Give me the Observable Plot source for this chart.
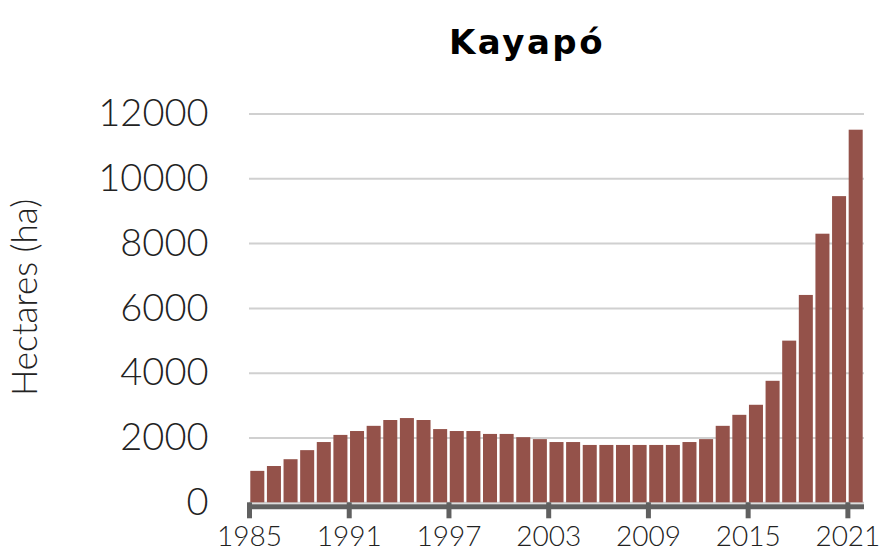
<!DOCTYPE html>
<html>
<head>
<meta charset="utf-8">
<script src="https://cdn.jsdelivr.net/npm/d3@7"></script>
<script src="https://cdn.jsdelivr.net/npm/@observablehq/plot@0.6"></script>
<style>
  html, body { margin: 0; padding: 0; background: #fff; }
  #wrap { position: relative; width: 880px; height: 555px; overflow: hidden; font-family: Lato, "Open Sans", sans-serif; }
  #title { position: absolute; left: 0; width: 1054px; top: 19px; text-align: center; font-family: "DejaVu Sans", Inter, sans-serif; font-weight: 700; font-size: 34px; letter-spacing: 2.5px; line-height: 46px; color: #000; margin: 0; }
  #chart svg { display: block; }
</style>
</head>
<body>
<div id="wrap">
  <div id="title">Kayapó</div>
  <div id="chart"></div>
</div>
<script>
const title = "Kayapó";
const yLabel = "Hectares (ha)";
const years = [1985,1986,1987,1988,1989,1990,1991,1992,1993,1994,1995,1996,1997,1998,1999,2000,2001,2002,2003,2004,2005,2006,2007,2008,2009,2010,2011,2012,2013,2014,2015,2016,2017,2018,2019,2020,2021];
const hectares = [970,1120,1330,1610,1860,2080,2200,2360,2540,2600,2540,2260,2200,2200,2110,2110,2010,1950,1860,1860,1770,1770,1770,1770,1770,1770,1860,1950,2360,2700,3010,3750,4990,6400,8290,9450,11500];
const xTicks = [1985,1991,1997,2003,2009,2015,2021];
const yTicks = [0,2000,4000,6000,8000,10000,12000];

const data = years.map((y, i) => ({year: y, value: hectares[i]}));
const font = "Lato, 'Open Sans', sans-serif";

const chart = Plot.plot({
  width: 880,
  height: 555,
  marginTop: 113.5,
  marginBottom: 52.7,
  marginLeft: 249,
  marginRight: 16,
  style: {fontFamily: font, background: "transparent"},
  x: {domain: [1985, 2022]},
  y: {domain: [0, 12000]},
  marks: [
    Plot.gridY(yTicks, {stroke: "#d0d0d0", strokeOpacity: 1, strokeWidth: 2}),
    Plot.rectY(data, {x1: "year", x2: d => d.year + 1, y: "value", fill: "#94524a", insetLeft: 1.3, insetRight: 1.3}),
    Plot.ruleY([0], {stroke: "#606060", strokeWidth: 5, dy: 4}),
    Plot.axisX(xTicks, {tickFormat: d => String(d), tickSize: 16, tickPadding: 7, stroke: "#606060", strokeWidth: 5, fontSize: 28, fontWeight: 300, fill: "#222", label: null}),
    Plot.axisY(yTicks, {tickFormat: d => String(d), tickSize: 0, tickPadding: 41, fontSize: 38, fontWeight: 300, fill: "#222", label: null}),
    Plot.text([yLabel], {frameAnchor: "left", rotate: -90, dx: -224, dy: -11, fontSize: 35, fontWeight: 300, fill: "#222", textAnchor: "middle", lineAnchor: "middle"})
  ]
});
document.getElementById("chart").appendChild(chart);
</script>
</body>
</html>
